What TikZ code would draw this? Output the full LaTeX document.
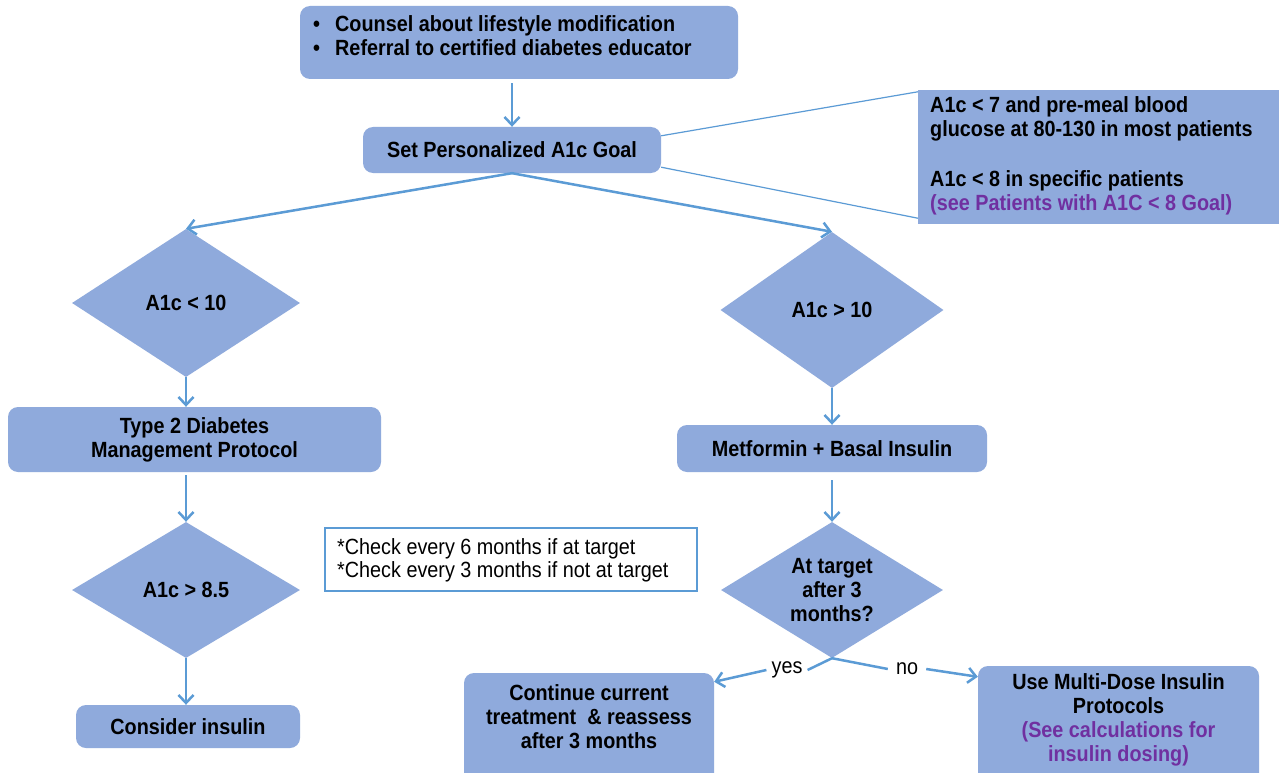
\documentclass[tikz,border=0pt]{standalone}
\usepackage{fontspec}
\setmainfont{Liberation Sans}[FakeStretch=0.9]
\usetikzlibrary{arrows.meta,shapes.geometric,calc}
\definecolor{boxfill}{HTML}{8FAADC}
\definecolor{arrowblue}{HTML}{5B9BD5}
\definecolor{linkpurple}{HTML}{7030A0}
\begin{document}
\begin{tikzpicture}[x=1pt,y=-1pt,
  font=\fontsize{22}{24}\selectfont\bfseries,
  box/.style={draw=none, fill=boxfill, rounded corners=10pt, rectangle, inner sep=0pt, align=center},
  dia/.style={diamond, fill=boxfill, aspect=1.6, inner sep=0pt, align=center},
  arr/.style={draw=arrowblue, line width=2.5pt, -{Straight Barb[length=8pt,width=15pt]}},
  plainline/.style={draw=arrowblue, line width=2.5pt},
  callout/.style={draw=arrowblue, line width=1.2pt},
  txt/.style={inner sep=0pt, align=left},
  regular/.style={font=\fontsize{22}{23}\selectfont\mdseries},
]
\useasboundingbox (0,0) rectangle (1279,773);
\clip (0,0) rectangle (1279,773);
\fill[white] (0,0) rectangle (1279,773);

% top box
\node[box, minimum width=438pt, minimum height=73pt] (top) at (519,42.5) {};
\node[txt, anchor=west] (toptxt) at (313,35.5) {\makebox[22pt][l]{•}Counsel about lifestyle modification\\ \makebox[22pt][l]{•}Referral to certified diabetes educator};

% goal
\node[box, minimum width=298pt, minimum height=46pt] (goal) at (512,150) {Set Personalized A1c Goal};

% info box
\node[rectangle, fill=boxfill, minimum width=361pt, minimum height=134pt, inner sep=0pt] (info) at (1098.5,157) {};
\node[txt, anchor=west] (infotxt) at (930,155.5) {A1c < 7 and pre-meal blood\\ glucose at 80-130 in most patients\\[26pt] A1c < 8 in specific patients\\ \textcolor{linkpurple}{(see Patients with A1C < 8 Goal)}};

% left branch
\node[dia, minimum width=228pt, minimum height=148pt] (d1) at (186,303) {A1c < 10};
\node[box, minimum width=373pt, minimum height=65pt] (t2) at (194.5,439.5) {Type 2 Diabetes\\ Management Protocol};
\node[dia, minimum width=228pt, minimum height=136pt] (d2) at (186,590) {A1c > 8.5};
\node[box, minimum width=224pt, minimum height=43pt] (ci) at (188,726.5) {Consider insulin};

% check box
\node[draw=arrowblue, line width=2pt, rectangle, minimum width=372pt, minimum height=63pt, inner sep=0pt] (chk) at (511,559.5) {};
\node[txt, anchor=west, regular] (chktxt) at (337,560.5) {*Check every 6 months if at target\\ *Check every 3 months if not at target};

% right branch
\node[dia, minimum width=223pt, minimum height=156pt] (d3) at (832,310) {A1c > 10};
\node[box, minimum width=310pt, minimum height=47pt] (mb) at (832,448.5) {Metformin + Basal Insulin};
\node[dia, minimum width=222pt, minimum height=136pt] (d4) at (832,590) {At target\\ after 3\\ months?};

\node[box, minimum width=250pt, minimum height=110pt] (cont) at (589,728) {};
\node[txt, align=center] (conttxt) at (589,716.5) {Continue current\\ treatment \ \& reassess\\ after 3 months};
\node[box, minimum width=281pt, minimum height=117pt] (md) at (1118.5,724.5) {};
\node[txt, align=center] (mdtxt) at (1118.5,719.5) {Use Multi-Dose Insulin\\ Protocols\\ \textcolor{linkpurple}{(See calculations for}\\ \textcolor{linkpurple}{insulin dosing)}};

\node[regular, inner sep=5pt] (yes) at (787,670) {yes};
\node[regular, inner sep=8pt] (no) at (907,669) {no};

% connectors
\draw[arr, shorten <=4pt] (goal.north |- top.south) -- (goal.north);
\draw[callout] ([yshift=-9pt]goal.north east) -- ([yshift=-2pt]info.north west);
\draw[callout] ([yshift=6pt]goal.south east) -- ([yshift=6pt]info.south west);
\draw[arr] (goal.south) -- (d1.north);
\draw[arr] (goal.south) -- (d3.north);
\draw[arr] (d1.south) -- (d1.south |- t2.north);
\draw[arr, shorten <=3pt] (d2.north |- t2.south) -- (d2.north);
\draw[arr] (d2.south) -- (ci.north -| d2.south);
\draw[arr] (d3.south) -- (mb.north);
\draw[arr, shorten <=8pt] (mb.south) -- (d4.north);
\draw[plainline] (d4.south) -- (yes.east);
\draw[arr] (yes.west) -- ([yshift=-9pt]cont.north east);
\draw[plainline] (d4.south) -- (no.west);
\draw[arr] (no.east) -- ([yshift=-11pt]md.north west);
\end{tikzpicture}
\end{document}
